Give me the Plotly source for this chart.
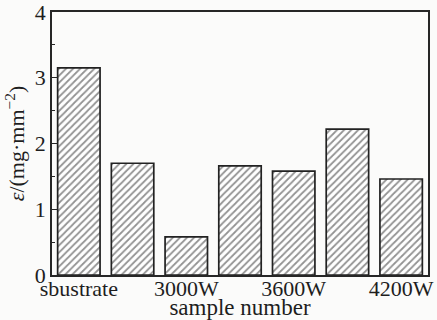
import plotly.graph_objects as go

# Sample groups (only every other one carries a label on the axis)
samples = ["sbustrate", "2700W", "3000W", "3300W", "3600W", "3900W", "4200W"]
tick_labels = ["sbustrate", "", "3000W", "", "3600W", "", "4200W"]
wear_loss = [3.15, 1.70, 0.58, 1.66, 1.58, 2.22, 1.46]

positions = list(range(len(samples)))
serif = "Liberation Serif"

fig = go.Figure(
    go.Bar(
        x=positions,
        y=wear_loss,
        width=0.79,
        marker=dict(
            color="white",
            line=dict(color="#222222", width=1.7),
            pattern=dict(shape="/", fgcolor="#262626", bgcolor="white",
                         size=5, solidity=0.35),
        ),
        hovertext=samples,
    )
)

fig.update_layout(
    width=437,
    height=320,
    margin=dict(l=52, r=9, t=12, b=45),
    paper_bgcolor="#fbfbfa",
    plot_bgcolor="#fbfbfa",
    showlegend=False,
    font=dict(family=serif, size=22, color="#1e1e1e"),
)

fig.update_xaxes(
    range=[-0.5, len(samples) - 0.5],
    tickvals=positions,
    ticktext=tick_labels,
    ticks="",
    showgrid=False,
    zeroline=False,
    showline=True,
    mirror=True,
    linecolor="#262626",
    linewidth=1.6,
    automargin=False,
    tickfont=dict(size=22),
    ticklabelstandoff=-7,
    title=dict(text="sample number", font=dict(size=23), standoff=4),
)

fig.update_yaxes(
    range=[0, 4],
    tickvals=[0, 1, 2, 3, 4],
    ticks="inside",
    ticklen=6,
    tickwidth=1.4,
    tickcolor="#262626",
    minor=dict(tickvals=[0.5, 1.5, 2.5, 3.5], ticks="inside", ticklen=3,
               tickwidth=1.2, tickcolor="#262626"),
    showgrid=False,
    zeroline=False,
    showline=True,
    mirror=True,
    linecolor="#262626",
    linewidth=1.6,
    automargin=False,
    ticklabeloverflow="allow",
    tickfont=dict(size=22),
    ticklabelstandoff=0,
    title=dict(text="<i>ε</i>/(mg·mm<sup>−2</sup>)", font=dict(size=22), standoff=4),
)

fig.write_html("out.html")
